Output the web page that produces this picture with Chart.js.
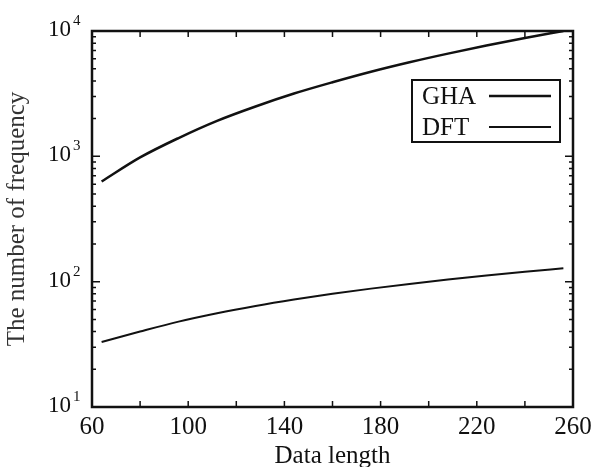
<!DOCTYPE html>
<html>
<head>
<meta charset="utf-8">
<script src="https://cdn.jsdelivr.net/npm/chart.js@4.4.0/dist/chart.umd.min.js"></script>
<style>
  html, body { margin: 0; padding: 0; background: #fff; }
  #wrap { width: 602px; height: 467px; }
</style>
</head>
<body>
<div id="wrap"><canvas id="chart"></canvas></div>
<script>
// длина данных
const dataLength = [64, 80, 96, 112, 128, 144, 160, 176, 192, 208, 224, 240, 256];
// число частот
const ghaValues = [630, 980, 1400, 1920, 2500, 3170, 3900, 4730, 5630, 6600, 7650, 8800, 10000];
const dftValues = [33, 40, 48, 56, 64, 72, 80, 88, 96, 104, 112, 120, 128];
const seriesNames = ["GHA", "DFT"];
const xTicks = [60, 100, 140, 180, 220, 260];
const yTicks = [10, 100, 1000, 10000];

const serif = "'Liberation Serif', 'DejaVu Serif', serif";
const ink = "#111";

// рамка, внутренние засечки, подписи оси Y и легенда
const framePlugin = {
  id: "frame",
  afterDraw(chart) {
    const ctx = chart.ctx;
    const a = chart.chartArea;
    const x = chart.scales.x;
    const y = chart.scales.y;
    ctx.save();
    ctx.strokeStyle = ink;
    ctx.lineWidth = 2.5;
    ctx.strokeRect(a.left, a.top, a.right - a.left, a.bottom - a.top);

    ctx.lineWidth = 1.5;
    // засечки по X каждые 20
    for (let v = 80; v < 260; v += 20) {
      const px = x.getPixelForValue(v);
      ctx.beginPath();
      ctx.moveTo(px, a.bottom); ctx.lineTo(px, a.bottom - 6);
      ctx.moveTo(px, a.top); ctx.lineTo(px, a.top + 6);
      ctx.stroke();
    }
    // засечки по Y (логарифмические)
    for (let d = 10; d < 10000; d *= 10) {
      for (let m = 1; m <= 9; m++) {
        const v = d * m;
        if (v <= 10) continue;
        const py = y.getPixelForValue(v);
        const len = m === 1 ? 8 : 4;
        ctx.beginPath();
        ctx.moveTo(a.left, py); ctx.lineTo(a.left + len, py);
        ctx.moveTo(a.right, py); ctx.lineTo(a.right - len, py);
        ctx.stroke();
      }
    }

    // подписи 10^n
    ctx.fillStyle = ink;
    ctx.textBaseline = "alphabetic";
    yTicks.forEach((v) => {
      const py = y.getPixelForValue(v);
      const exp = String(Math.round(Math.log10(v)));
      ctx.font = "23px " + serif;
      ctx.textAlign = "left";
      const baseX = a.left - 44;
      ctx.fillText("10", baseX, py + 5);
      const w = ctx.measureText("10").width;
      ctx.font = "15px " + serif;
      ctx.fillText(exp, baseX + w + 2, py - 6);
    });

    // легенда
    const lx = 412, ly = 80, lw = 148, lh = 62;
    ctx.fillStyle = "#fff";
    ctx.fillRect(lx, ly, lw, lh);
    ctx.lineWidth = 2;
    ctx.strokeRect(lx, ly, lw, lh);
    ctx.fillStyle = ink;
    ctx.font = "25px " + serif;
    ctx.textAlign = "left";
    ctx.textBaseline = "middle";
    chart.data.datasets.forEach((ds, i) => {
      const ty = ly + 16 + i * 31;
      ctx.fillText(ds.label, lx + 10, ty + 1);
      ctx.lineWidth = ds.borderWidth;
      ctx.beginPath();
      ctx.moveTo(lx + 77, ty);
      ctx.lineTo(lx + 139, ty);
      ctx.stroke();
    });
    ctx.restore();
  },
};

new Chart(document.getElementById("chart"), {
  type: "line",
  data: {
    labels: dataLength,
    datasets: [
      {
        label: seriesNames[0],
        data: dataLength.map((n, i) => ({ x: n, y: ghaValues[i] })),
        borderColor: ink,
        borderWidth: 2.5,
        pointRadius: 0,
        cubicInterpolationMode: "monotone",
      },
      {
        label: seriesNames[1],
        data: dataLength.map((n, i) => ({ x: n, y: dftValues[i] })),
        borderColor: ink,
        borderWidth: 2,
        pointRadius: 0,
        cubicInterpolationMode: "monotone",
      },
    ],
  },
  options: {
    responsive: true,
    maintainAspectRatio: false,
    animation: false,
    layout: { padding: { top: 31, right: 29, left: 0, bottom: 0 } },
    plugins: {
      legend: { display: false },
      tooltip: { enabled: false },
    },
    scales: {
      x: {
        type: "linear",
        min: 60,
        max: 260,
        afterBuildTicks: (s) => { s.ticks = xTicks.map((v) => ({ value: v })); },
        afterFit: (s) => { s.height = 60; },
        grid: { display: false, drawTicks: false },
        border: { display: false },
        ticks: {
          color: ink,
          padding: 5,
          maxRotation: 0,
          font: { family: serif, size: 25 },
        },
        title: {
          display: true,
          text: "Data length",
          color: ink,
          padding: { top: 0, bottom: -4 },
          font: { family: serif, size: 25 },
        },
      },
      y: {
        type: "logarithmic",
        min: 10,
        max: 10000,
        afterBuildTicks: (s) => { s.ticks = yTicks.map((v) => ({ value: v })); },
        afterFit: (s) => { s.width = 92; },
        grid: { display: false, drawTicks: false },
        border: { display: false },
        ticks: { display: false },
        title: {
          display: true,
          text: "The number of frequency",
          color: "#333",
          padding: { top: 2, bottom: 0 },
          font: { family: serif, size: 25 },
        },
      },
    },
  },
  plugins: [framePlugin],
});
</script>
</body>
</html>
